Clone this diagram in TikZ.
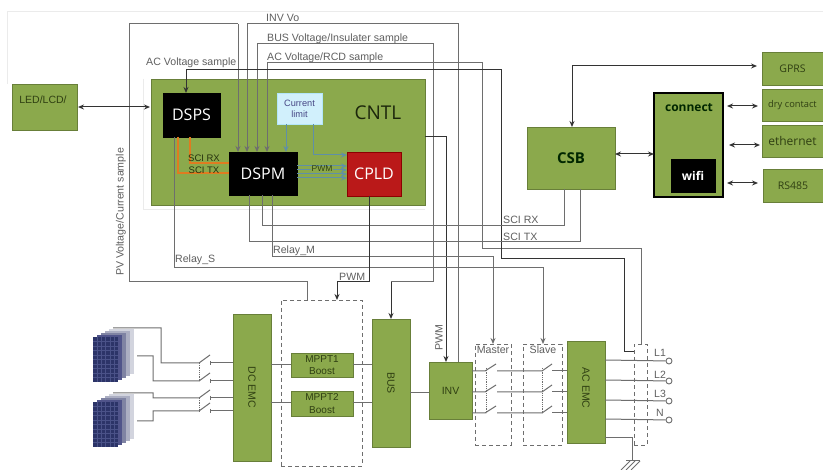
\documentclass[tikz,border=0pt]{standalone}
\usepackage{fontspec}
\setmainfont{Liberation Sans}
\newfontfamily\opens{Open Sans}
\usetikzlibrary{arrows.meta,calc}
\definecolor{gbox}{HTML}{8BA94C}
\definecolor{gline}{HTML}{6E6E6E}
\definecolor{gtext}{HTML}{5F5F5F}
\definecolor{gdark}{HTML}{2F3F12}
\definecolor{darkl}{HTML}{333333}
\definecolor{bluel}{HTML}{5F8FA8}
\definecolor{orl}{HTML}{E07B20}
\definecolor{panelc}{HTML}{2C3468}
\definecolor{panelg}{HTML}{4A5288}
\newcommand{\fs}[1]{\fontsize{#1}{#1}\selectfont}
\newcommand{\boxat}[7]{\node[#6, minimum width={(#4-#2)*1pt}, minimum height={(#5-#3)*1pt}] (#1) at ({(#2+#4)/2},{(#3+#5)/2}) {#7};}
\newcommand{\solar}[2]{%
  \foreach \k/\c in {4/D2D4DE,3/ABAEC2,2/7F83A3,1/50548A}{
    \definecolor{lay}{HTML}{\c}
    \fill[lay] ({#1+\k*4},{#2-\k*2}) rectangle ++(25,45);}
  \fill[panelc] (#1,#2) rectangle ++(25,45);
  \foreach \i in {1,...,5}{\draw[pgrid] ({#1+\i*4.2},#2) -- ++(0,45);}
  \foreach \i in {1,...,9}{\draw[pgrid] (#1,{#2+\i*4.5}) -- ++(25,0);}
}
\tikzset{
  gb/.style={draw=gbox!75!black, line width=0.7pt, fill=gbox, inner sep=0pt, outer sep=0pt, text=gdark, align=center},
  blk/.style={draw=black, fill=black, text=white, inner sep=0pt, outer sep=0pt, font=\opens\fs{16}},
  dbox/.style={draw=gline, dashed, dash pattern=on 4pt off 3pt, line width=0.9pt, inner sep=0pt, outer sep=0pt},
  lbl/.style={text=gtext, font=\fs{10.6}, inner sep=0pt},
  rlab/.style={text=gdark, font=\fs{10.5}, inner sep=0pt, rotate=-90},
  wire/.style={draw=gline, line width=1pt},
  dwire/.style={draw=darkl, line width=1pt},
  arr/.style={-{Stealth[length=6pt,width=5pt]}},
  barr/.style={{Stealth[length=6pt,width=5pt]}-{Stealth[length=6pt,width=5pt]}},
  pgrid/.style={draw=panelg, line width=0.4pt},
  bl/.style={draw=bluel, line width=1pt},
  orw/.style={draw=orl, line width=1.2pt},
  term/.style={circle, draw=gline, fill=white, line width=0.9pt, minimum size=6pt, inner sep=0pt},
  dotv/.style={draw=gline, densely dotted, line width=0.8pt}
}
\begin{document}
\begin{tikzpicture}[x=1pt,y=-1pt]
\useasboundingbox (0,0) rectangle (823,470);
\fill[white] (0,0) rectangle (823,470);
\draw[black!8, line width=0.8pt] (7,84) -- (7,11) -- (823,11);
\draw[black!8, line width=0.6pt] (143,79) -- (143,209) -- (425,209);

% boxes
\boxat{led}{12}{84}{77}{130}{gb}{}
\node[inner sep=0pt, text=gdark, font=\fs{10.5}] (ledt) at (43,100) {LED/LCD/};
\boxat{cntl}{151}{79}{425}{205}{gb}{}
\node[inner sep=0pt, font=\opens\fs{19}, text=gdark!60!black] (cntlt) at (378,113) {CNTL};
\boxat{dsps}{163}{93}{220}{137}{blk}{DSPS}
\boxat{dspm}{229}{152}{297}{195}{blk}{DSPM}
\boxat{cpld}{347}{152}{401}{196}{draw=red!55!black, fill=red!70!black!90!white, text=white, inner sep=0pt, outer sep=0pt, font=\opens\fs{16}}{CPLD}
\boxat{clim}{277}{93}{322}{124}{draw=cyan!30!white, fill=cyan!18!white, text=blue!30!gray!80!black, inner sep=0pt, outer sep=0pt, align=center, font=\fs{9.2}}{Current\\[2pt]limit}
\boxat{csb}{527}{127}{615}{189}{gb, font=\opens\bfseries\fs{15}, text=black!85!green}{CSB}
\boxat{conn}{654}{93}{723}{197}{draw=black, line width=1.6pt, fill=gbox, inner sep=0pt, outer sep=0pt}{}
\node[inner sep=0pt, font=\opens\bfseries\fs{12}, text=black!85!green] (connt) at (689,108) {connect};
\boxat{wifi}{671}{159}{715}{192}{draw=black, fill=black, text=white, inner sep=0pt, outer sep=0pt, font=\opens\bfseries\fs{12}}{wifi}
\boxat{gprs}{762}{52}{823}{85}{gb, font=\opens\fs{10.5}}{GPRS}
\boxat{dry}{762}{89}{823}{121}{gb, font=\opens\fs{9.3}}{dry contact}
\boxat{eth}{762}{125}{823}{157}{gb, font=\opens\fs{12}}{ethernet}
\boxat{rs}{763}{169}{823}{202}{gb, font=\opens\fs{10.5}}{RS485}
\boxat{dcemc}{233}{314}{271}{461}{gb}{}
\node[rlab] (dct) at (dcemc.center) {DC EMC};
\boxat{mppta}{291}{353}{353}{377}{gb, font=\fs{10}}{MPPT1\\[2.5pt]Boost}
\boxat{mpptb}{291}{391}{353}{416}{gb, font=\fs{10}}{MPPT2\\[2.5pt]Boost}
\boxat{busb}{372}{319}{410}{447}{gb}{}
\node[rlab] (bust) at (busb.center) {BUS};
\boxat{inv}{429}{362}{472}{419}{gb, font=\fs{10.5}}{INV}
\boxat{acemc}{567}{341}{605}{443}{gb}{}
\node[rlab] (act) at ($(acemc.center)+(0,-4)$) {AC EMC};
\boxat{bst}{281}{300}{362}{466}{dbox}{}
\boxat{mas}{475}{344}{511}{445}{dbox}{}
\boxat{sla}{523}{344}{562}{445}{dbox}{}
\boxat{rdash}{634}{344}{647}{445}{dbox}{}

% top routed signal lines
\draw[wire] (307,0 |- bst.north) -- (307,282) -- (129,282) -- (129,24) -- (238,24);
\draw[wire,arr] (238,24) -- (238,0 |- dspm.north);
\draw[wire,arr] (458,0 |- inv.north) -- (458,24) -- (247,24) -- (247,0 |- dspm.north);
\draw[wire,arr] (391,282) -- (433,282) -- (433,44) -- (257,44) -- (257,0 |- dspm.north);
\draw[dwire,arr] (391,282) -- (391,0 |- busb.north);
\draw[wire,arr] (rdash.north -| 641,0) -- (641,249) -- (482,249) -- (482,63) -- (267,63) -- (267,0 |- dspm.north);
\draw[dwire,arr] (634,352) -- (624,352) -- (624,259) -- (501,259) -- (501,70) -- (186,70) -- (186,0 |- dsps.north);
\draw[dwire,arr] (cntl.east |- 0,137) -- (446,137) -- (446,0 |- inv.north);
\draw[wire,arr] (174,0 |- dsps.south) -- (174,268) -- (543,268) -- (543,0 |- sla.north);
\draw[wire,arr] (272,0 |- dspm.south) -- (272,257) -- (493,257) -- (493,0 |- mas.north);
\draw[wire] (262,0 |- dspm.south) -- (262,226) -- (564,226) -- (564,0 |- csb.south);
\draw[wire] (249,0 |- dspm.south) -- (249,242) -- (580,242) -- (580,0 |- csb.south);
\draw[dwire,arr] (369,0 |- cpld.south) -- (369,282) -- (337,282) -- (337,0 |- bst.north);

% inside CNTL
\draw[orw] (190,0 |- dsps.south) -- (190,163) -- (dspm.west |- 0,163);
\draw[orw] (178,0 |- dsps.south) -- (178,173) -- (dspm.west |- 0,173);
\draw[bl,arr] (286,0 |- clim.south) -- (286,0 |- dspm.north);
\draw[bl,arr] (313,0 |- clim.south) -- (313,155) -- (cpld.west |- 0,155);
\foreach \y in {166,170,174,178}{\draw[bl,arr] (dspm.east |- 0,\y) -- (cpld.west |- 0,\y);}
\node[inner sep=0.5pt, fill=gbox, text=gdark, font=\fs{8.5}] (pwmi) at (322,169) {PWM};
\node[inner sep=0pt, text=gdark!80!black, font=\fs{9.5}] (scirx) at (204,158) {SCI RX};
\node[inner sep=0pt, text=gdark!80!black, font=\fs{9.5}] (scitx) at (204,170) {SCI TX};

% right side arrows
\draw[dwire,barr] (572,0 |- csb.north) -- (572,66) -- (757,66);
\draw[dwire,barr] (csb.east |- 0,154) -- (conn.west |- 0,154);
\draw[dwire,barr] (727,106) -- (758,106);
\draw[dwire,barr] (729,145) -- (760,145);
\draw[dwire,barr] (727,183) -- (758,183);
\draw[dwire,barr] (78,107) -- (150,107);

% power path
\draw[wire] (dcemc.east |- 0,365) -- (mppta.west |- 0,365);
\draw[wire] (dcemc.east |- 0,403) -- (mpptb.west |- 0,403);
\draw[wire] (mppta.east |- 0,365) -- (busb.west |- 0,365);
\draw[wire] (mpptb.east |- 0,403) -- (busb.west |- 0,403);
\draw[wire] (busb.east |- 0,393) -- (inv.west |- 0,393);
\foreach \y in {371,392,413}{
  \draw[wire] (inv.east |- 0,\y) -- (485,\y) -- ++(11,-7);
  \draw[wire] (497,\y) -- (542,\y) -- ++(10,-7);
  \draw[wire] (552,\y) -- (acemc.west |- 0,\y);
}
\draw[dotv] (486,368) -- (486,413);
\draw[dotv] (542,368) -- (542,413);
\foreach \n/\y/\t/\ty in {a/360/L1/353,b/380/L2/375,c/400/L3/394,d/419/N/413}{
  \node[term] (t\n) at (669,{\y+1}) {};
  \draw[wire] (acemc.east |- 0,\y) -- (t\n);
  \node[lbl, font=\fs{10.5}] (l\n) at (660,\ty) {\t};
}
% ground
\draw[wire] (acemc.east |- 0,438) -- (632,438) -- (632,461);
\draw[wire] (626,461) -- (640,461);
\draw[wire] (630,461) -- (621,470) (635,461) -- (626,470) (640,461) -- (631,470);

% PV
\solar{93}{337}
\solar{93}{402}
\coordinate (pa) at (113,328);
\coordinate (pb) at (137,356);
\coordinate (pc) at (113,393);
\coordinate (pd) at (137,421);
\draw[wire] (pa) -- (161,328) -- (161,363) -- (199,363) -- ++(11,-8);
\draw[wire] (pb) -- (153,356) -- (153,381) -- (199,381) -- ++(11,-8);
\draw[wire] (pc) -- (153,393) -- (153,398) -- (199,398) -- ++(11,-8);
\draw[wire] (pd) -- (153,421) -- (153,411) -- (199,411) -- ++(11,-8);
\foreach \y in {363,381,398,411}{
  \draw[wire] (210,\y) -- (dcemc.west |- 0,\y);
  \draw[wire] (210,{\y-2}) -- (210,{\y+2});
}
\draw[dotv] (199,363) -- (199,381);
\draw[dotv] (199,398) -- (199,411);

% labels
\node[lbl, anchor=west] (l1) at (266,18) {INV Vo};
\node[lbl, anchor=west] (l2) at (267,39) {BUS Voltage/Insulater sample};
\node[lbl, anchor=west] (l3) at (267,58) {AC Voltage/RCD sample};
\node[lbl, anchor=west] (l4) at (146,63) {AC Voltage sample};
\node[lbl, rotate=90] (l5) at (121,212) {PV Voltage/Current sample};
\node[lbl, anchor=west] (l6) at (175,260) {Relay\_S};
\node[lbl, anchor=west] (l7) at (273,251) {Relay\_M};
\node[lbl, anchor=west] (l8) at (339,277) {PWM};
\node[lbl, rotate=90] (l9) at (439,338) {PWM};
\node[lbl, anchor=west] (l10) at (503,220) {SCI RX};
\node[lbl, anchor=west] (l11) at (503,237) {SCI TX};
\node[lbl] (l12) at (493,350) {Master};
\node[lbl] (l13) at (543,350) {Slave};
\end{tikzpicture}
\end{document}
